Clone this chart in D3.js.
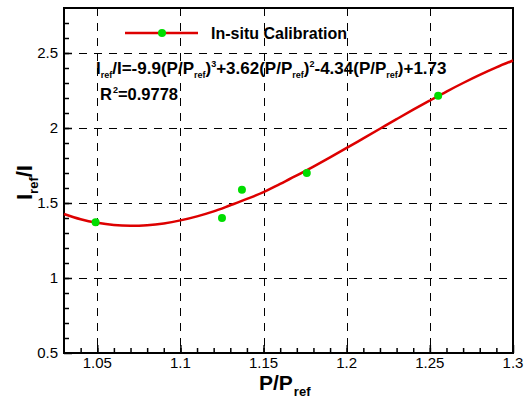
<!DOCTYPE html>
<html>
<head>
<meta charset="utf-8">
<script src="https://cdnjs.cloudflare.com/ajax/libs/d3/7.8.5/d3.min.js"></script>
<style>
    body { margin: 0; background: #fff; }
    text { font-family: "Liberation Sans", Arial, sans-serif; }
</style>
</head>
<body>
<div id="chart"></div>
<script>
    // measured points
    var pointX = [1.049, 1.125, 1.137, 1.176, 1.255];
    var pointY = [1.371, 1.400, 1.589, 1.700, 2.215];

    // fitted curve
    var curveX = [1.03, 1.04, 1.05, 1.06, 1.07, 1.08, 1.09, 1.10, 1.11, 1.12, 1.13, 1.14, 1.15,
                  1.16, 1.17, 1.18, 1.19, 1.20, 1.21, 1.22, 1.23, 1.24, 1.25, 1.26, 1.27, 1.28, 1.29, 1.30];
    var curveY = [1.427, 1.392, 1.368, 1.353, 1.348, 1.352, 1.364, 1.384, 1.411, 1.444, 1.485, 1.527, 1.572,
                  1.628, 1.684, 1.743, 1.804, 1.867, 1.931, 1.995, 2.059, 2.122, 2.183, 2.243, 2.300, 2.354, 2.404, 2.450];

    var xTicks = [1.05, 1.1, 1.15, 1.2, 1.25, 1.3];
    var yTicks = [0.5, 1, 1.5, 2, 2.5];

    var width = 529, height = 398;
    var mLeft = 64, mRight = 513, mTop = 8, mBottom = 353;

    var x = d3.scaleLinear().domain([1.03, 1.3]).range([mLeft, mRight]);
    var y = d3.scaleLinear().domain([0.5, 2.8]).range([mBottom, mTop]);

    var svg = d3.select("#chart").append("svg")
        .attr("width", width)
        .attr("height", height);

    // dashed grid
    svg.append("g").selectAll("line")
        .data(xTicks.filter(function(d) { return d < 1.3; }))
        .enter().append("line")
        .attr("x1", function(d) { return Math.round(x(d)) + 0.5; })
        .attr("x2", function(d) { return Math.round(x(d)) + 0.5; })
        .attr("y1", mTop).attr("y2", mBottom)
        .attr("stroke", "#000").attr("stroke-width", 1)
        .attr("stroke-dasharray", "8,7");

    svg.append("g").selectAll("line")
        .data(yTicks.filter(function(d) { return d > 0.5; }))
        .enter().append("line")
        .attr("y1", function(d) { return Math.round(y(d)) + 0.5; })
        .attr("y2", function(d) { return Math.round(y(d)) + 0.5; })
        .attr("x1", mLeft).attr("x2", mRight)
        .attr("stroke", "#000").attr("stroke-width", 1)
        .attr("stroke-dasharray", "8,7");

    // axes, ticks pointing inward
    var xAxis = d3.axisTop(x).tickValues(xTicks).tickSize(8).tickFormat("");
    var xMinor = d3.axisTop(x).tickValues(d3.range(1.04, 1.3, 0.01)).tickSize(5).tickFormat("");
    var yAxis = d3.axisRight(y).tickValues(yTicks).tickSize(8).tickFormat("");
    var yMinor = d3.axisRight(y).tickValues(d3.range(0.6, 2.8, 0.1)).tickSize(5).tickFormat("");

    [xAxis, xMinor].forEach(function(a) {
        var g = svg.append("g").attr("transform", "translate(0," + mBottom + ")").call(a);
        g.select(".domain").remove();
        g.selectAll("line").attr("stroke", "#000").attr("stroke-width", 1.5);
    });
    [yAxis, yMinor].forEach(function(a) {
        var g = svg.append("g").attr("transform", "translate(" + mLeft + ",0)").call(a);
        g.select(".domain").remove();
        g.selectAll("line").attr("stroke", "#000").attr("stroke-width", 1.5);
    });

    // frame
    svg.append("rect")
        .attr("x", mLeft).attr("y", mTop)
        .attr("width", mRight - mLeft).attr("height", mBottom - mTop)
        .attr("fill", "none").attr("stroke", "#000").attr("stroke-width", 2);

    // tick labels
    svg.append("g").selectAll("text")
        .data(xTicks)
        .enter().append("text")
        .attr("x", function(d) { return x(d); })
        .attr("y", mBottom + 15)
        .attr("text-anchor", "middle")
        .attr("font-size", 15)
        .text(function(d) { return d; });

    svg.append("g").selectAll("text")
        .data(yTicks)
        .enter().append("text")
        .attr("x", mLeft - 6)
        .attr("y", function(d) { return y(d) + 5; })
        .attr("text-anchor", "end")
        .attr("font-size", 15)
        .text(function(d) { return d; });

    // fitted curve
    var line = d3.line()
        .x(function(d, i) { return x(curveX[i]); })
        .y(function(d) { return y(d); })
        .curve(d3.curveCatmullRom);

    svg.append("path")
        .datum(curveY)
        .attr("d", line)
        .attr("fill", "none")
        .attr("stroke", "#dd0000")
        .attr("stroke-width", 2.5);

    svg.append("g").selectAll("circle")
        .data(pointY)
        .enter().append("circle")
        .attr("cx", function(d, i) { return x(pointX[i]); })
        .attr("cy", function(d) { return y(d); })
        .attr("r", 4)
        .attr("fill", "#00dd00");

    // legend
    svg.append("line")
        .attr("x1", 125).attr("x2", 198).attr("y1", 33).attr("y2", 33)
        .attr("stroke", "#dd0000").attr("stroke-width", 2.5);
    svg.append("circle").attr("cx", 162).attr("cy", 33).attr("r", 4).attr("fill", "#00dd00");
    svg.append("text")
        .attr("x", 211).attr("y", 39)
        .attr("font-size", 16).attr("font-weight", "bold")
        .text("In-situ Calibration");

    // equation
    var eq = svg.append("text")
        .attr("x", 96).attr("y", 74)
        .attr("font-size", 17).attr("font-weight", "bold");
    function part(t, s) {
        var ts = eq.append("tspan").text(t);
        if (s == "sub") ts.attr("font-size", 9).attr("dy", 4);
        if (s == "sup") ts.attr("font-size", 9).attr("dy", -7);
        if (s == "up") ts.attr("dy", -4);
        if (s == "down") ts.attr("dy", 7);
        return ts;
    }
    part("I");
    part("ref", "sub");
    part("/I=-9.9(P/P", "up");
    part("ref", "sub");
    part(")", "up");
    part("3", "sup");
    part("+3.62(P/P", "down");
    part("ref", "sub");
    part(")", "up");
    part("2", "sup");
    part("-4.34(P/P", "down");
    part("ref", "sub");
    part(")+1.73", "up");

    var r2 = svg.append("text")
        .attr("x", 100).attr("y", 100)
        .attr("font-size", 16.5).attr("font-weight", "bold");
    r2.append("tspan").text("R");
    r2.append("tspan").text("2").attr("font-size", 9).attr("dy", -7).attr("dx", 1);
    r2.append("tspan").text("=0.9778").attr("dy", 7);

    // axis titles
    var xt = svg.append("text")
        .attr("x", 259).attr("y", 390)
        .attr("font-size", 21).attr("font-weight", "bold");
    xt.append("tspan").text("P/P");
    xt.append("tspan").text("ref").attr("font-size", 13).attr("dy", 6).attr("dx", 1);

    var yt = svg.append("text")
        .attr("transform", "translate(32,200) rotate(-90)")
        .attr("font-size", 22).attr("font-weight", "bold");
    yt.append("tspan").text("I");
    yt.append("tspan").text("ref").attr("font-size", 13).attr("dy", 6);
    yt.append("tspan").text("/I").attr("dy", -6);
</script>
</body>
</html>
